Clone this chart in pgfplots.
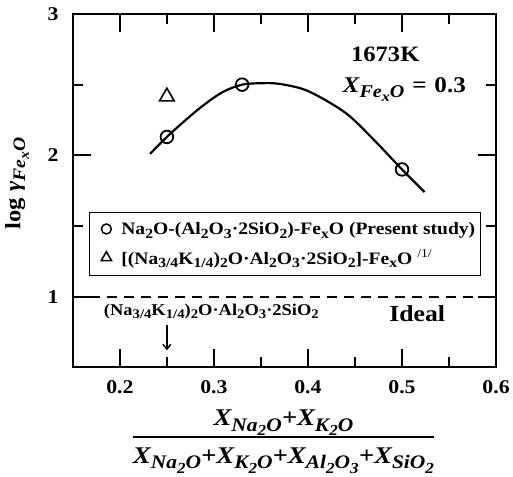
\documentclass[border=0pt]{standalone}
\usepackage{fontspec}
\setmainfont[FakeStretch=1.12]{Liberation Serif}
\usepackage{pgfplots}
\pgfplotsset{compat=1.18}
\usetikzlibrary{arrows.meta}
\newcommand{\fsz}[1]{\fontsize{#1}{#1}\selectfont}
% larger subscripts than \textsubscript, as in the original figure
\makeatletter
\newdimen\subdim
\newcommand{\sub}[1]{\raisebox{-0.22em}{\subdim=\f@size pt\subdim=0.8\subdim
  \fontsize{\strip@pt\subdim}{\strip@pt\subdim}\selectfont #1}}
\makeatother
\pgfplotsset{padlegend/.style={legend image code/.code={%
  \path[draw=none,fill=none] (-14pt,-5pt) rectangle (13pt,5pt);
  \draw[##1] plot coordinates {(0pt,0pt)};}}}

\begin{document}
\begin{tikzpicture}
\begin{axis}[
  name=ax,
  scale only axis, width=424pt, height=354pt,
  xmin=0.15, xmax=0.6, ymin=0.5, ymax=3,
  xtick={0.2,0.3,0.4,0.5,0.6}, minor xtick={0.25,0.35,0.45,0.55},
  ytick={1,2,3}, minor ytick={1.5,2.5},
  major tick length=18pt, minor tick length=10pt,
  tick align=inside,
  line width=2.2pt,
  tick style={draw=black, line width=2.2pt},
  /pgf/number format/assume math mode=true,
  xticklabel style={font=\fsz{19.5}\bfseries, yshift=-9pt},
  yticklabel style={font=\fsz{19.5}\bfseries, xshift=-10pt},
  ylabel={\textbf{log \textit{γ\sub{Fe\sub{x}O}}}},
  ylabel style={at={(axis description cs:-0.132,0.52)}, anchor=center, font=\fsz{22}},
  xlabel={\setlength\arrayrulewidth{2pt}\begin{tabular}{@{}c@{}}
    \rule[-10pt]{0pt}{0pt}X\sub{Na\sub{2}O}+X\sub{K\sub{2}O}\\ \hline
    \rule{0pt}{26pt}X\sub{Na\sub{2}O}+X\sub{K\sub{2}O}+X\sub{Al\sub{2}O\sub{3}}+X\sub{SiO\sub{2}}
  \end{tabular}},
  xlabel style={at={(axis description cs:0.4976,-0.209)}, anchor=center, font=\fsz{24}\bfseries\itshape},
  legend style={at={(axis description cs:0.0377,0.4407)}, anchor=north west,
    draw=black, line width=1.2pt, font=\fsz{17.5}\bfseries, row sep=10pt,
    inner xsep=3pt, inner ysep=8pt, column sep=0pt},
  legend cell align=left,
]
% fitted curve
\addplot[black, line width=2.2pt, smooth, forget plot] coordinates {
(0.232,2.01) (0.25,2.13) (0.27,2.25) (0.29,2.36) (0.31,2.45) (0.33,2.50)
(0.35,2.51) (0.37,2.505) (0.40,2.455) (0.44,2.30) (0.47,2.11) (0.50,1.90) (0.524,1.74)
};
% ideal line
\addplot[black, line width=2.2pt, dash pattern=on 10pt off 7pt, forget plot]
  coordinates {(0.15,1) (0.6,1)};
% present study
\addplot[only marks, mark=o, mark size=6.3pt, line width=1.8pt,
  mark options={fill=white}, forget plot]
  coordinates {(0.25,2.13) (0.33,2.50) (0.5,1.90)};
% literature /1/
\addplot[only marks, mark=triangle, mark size=8.5pt, line width=1.6pt, forget plot]
  coordinates {(0.25,2.415)};
\addlegendimage{only marks, mark=o, mark size=5pt, line width=1.5pt, padlegend}
\addlegendentry{Na\sub{2}O-(Al\sub{2}O\sub{3}·2SiO\sub{2})-Fe\sub{x}O (Present study)}
\addlegendimage{only marks, mark=triangle, mark size=6pt, line width=1.5pt, padlegend}
\addlegendentry{[(Na\sub{3/4}K\sub{1/4})\sub{2}O·Al\sub{2}O\sub{3}·2SiO\sub{2}]-Fe\sub{x}O \textsuperscript{\mdseries/1/}}
% annotations
\node[anchor=base west, inner sep=0pt, font=\fsz{22}\bfseries] at (axis cs:0.4447,2.664) {1673K};
\node[anchor=base west, inner sep=0pt, font=\fsz{22.5}\bfseries] at (axis cs:0.4358,2.4415)
  {\textit{X\sub{Fe\sub{x}O}}\hspace{0.35em}=\hspace{0.35em}0.3};
\node[anchor=base west, inner sep=0pt, font=\fsz{23}\bfseries] at (axis cs:0.4854,0.822) {Ideal};
\node[anchor=base west, inner sep=0pt, font=\fsz{16.5}\bfseries] at (axis cs:0.1819,0.87) {(Na\sub{3/4}K\sub{1/4})\sub{2}O·Al\sub{2}O\sub{3}·2SiO\sub{2}};
\draw[line width=1.4pt, -{Straight Barb[length=5pt,width=8pt]}] (axis cs:0.25,0.80) -- (axis cs:0.25,0.62);
\end{axis}
% frame and inward ticks, on top (axis box is 424pt x 354pt at the origin)
\begin{scope}[line width=2.2pt, black]
\draw (0pt,0pt) rectangle (424pt,354pt);
\foreach \x in {47.11,141.33,235.56,329.78} {
  \draw (\x pt,0pt) -- ++(0pt,18pt); \draw (\x pt,354pt) -- ++(0pt,-18pt);}
\foreach \x in {94.22,188.44,282.67,376.89} {
  \draw (\x pt,0pt) -- ++(0pt,10pt); \draw (\x pt,354pt) -- ++(0pt,-10pt);}
\foreach \y in {70.8,212.4} {
  \draw (0pt,\y pt) -- ++(18pt,0pt); \draw (424pt,\y pt) -- ++(-18pt,0pt);}
\foreach \y in {141.6,283.2} {
  \draw (0pt,\y pt) -- ++(10pt,0pt); \draw (424pt,\y pt) -- ++(-10pt,0pt);}
\end{scope}
% picture extent of the original figure
\path (-73pt,-108pt) rectangle (440pt,368pt);
\end{tikzpicture}
\end{document}
